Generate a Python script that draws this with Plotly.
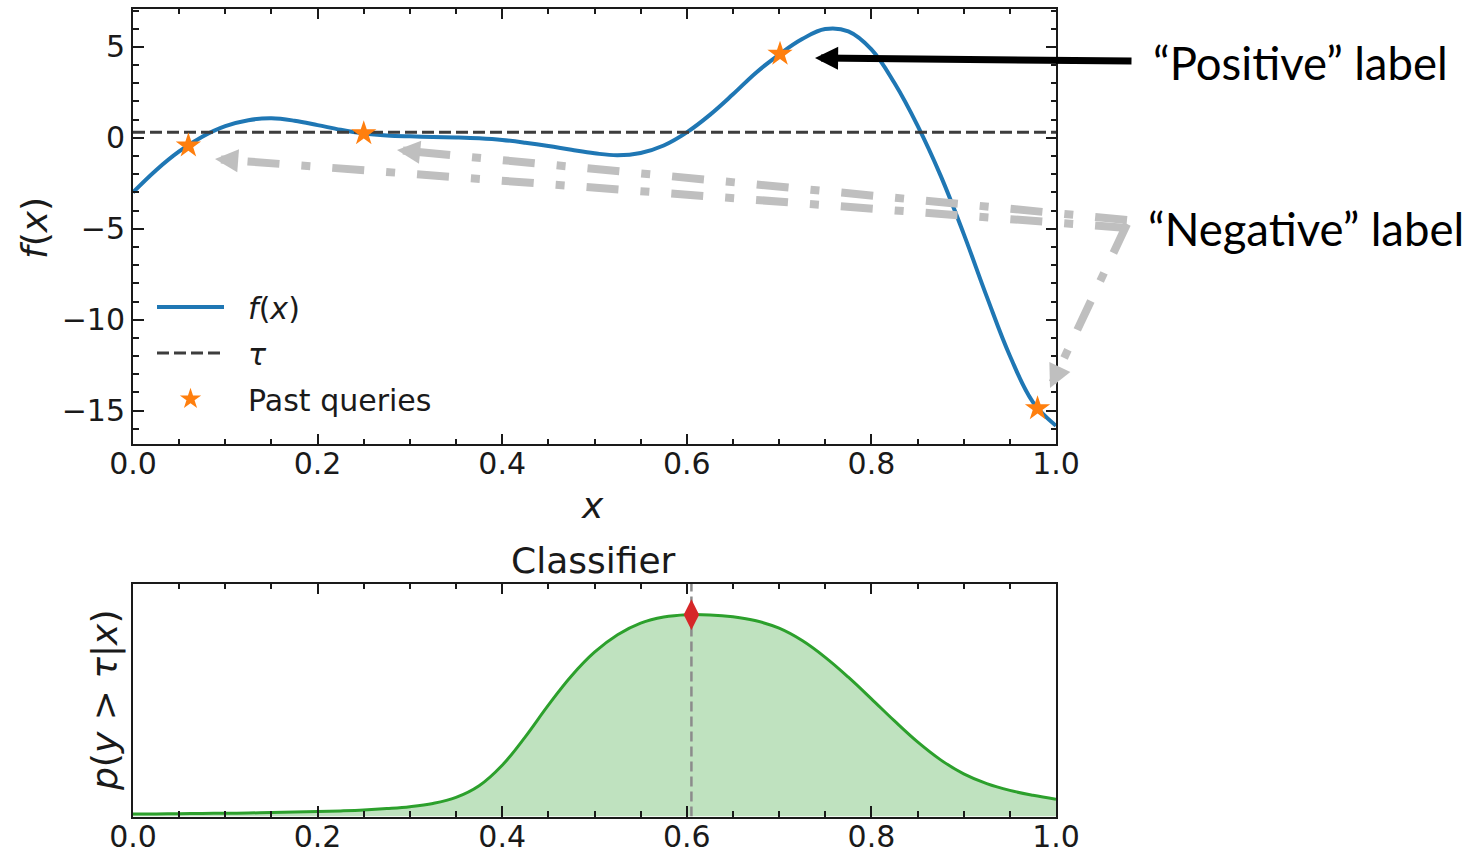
import plotly.graph_objects as go

W, H = 1480, 849

# Objective f(x) sampled on a regular grid
fx_x = [0.000, 0.025, 0.050, 0.075, 0.100, 0.125, 0.150, 0.175, 0.200, 0.225,
        0.250, 0.275, 0.300, 0.325, 0.350, 0.375, 0.400, 0.425, 0.450, 0.475,
        0.500, 0.525, 0.550, 0.575, 0.600, 0.625, 0.650, 0.675, 0.700, 0.725,
        0.750, 0.775, 0.800, 0.825, 0.850, 0.875, 0.900, 0.925, 0.950, 0.975,
        1.000]
fx_y = [-3.00, -1.78, -0.75, 0.06, 0.64, 0.97, 1.07, 0.94, 0.70, 0.44,
        0.24, 0.13, 0.08, 0.05, 0.02, -0.03, -0.12, -0.27, -0.45, -0.66,
        -0.85, -0.96, -0.83, -0.42, 0.30, 1.26, 2.39, 3.58, 4.58, 5.43,
        5.98, 5.85, 4.86, 3.01, 0.67, -2.08, -5.28, -8.73, -11.98, -14.53,
        -15.83]

# Threshold and past queries
tau = 0.3
query_x = [0.060, 0.250, 0.701, 0.980]
query_y = [-0.43, 0.24, 4.61, -14.88]

# Classifier output p(y > tau | x)
clf_x = [0.000, 0.025, 0.050, 0.075, 0.100, 0.125, 0.150, 0.175, 0.200, 0.225,
         0.250, 0.275, 0.300, 0.325, 0.350, 0.375, 0.400, 0.425, 0.450, 0.475,
         0.500, 0.525, 0.550, 0.575, 0.600, 0.625, 0.650, 0.675, 0.700, 0.725,
         0.750, 0.775, 0.800, 0.825, 0.850, 0.875, 0.900, 0.925, 0.950, 0.975,
         1.000]
clf_p = [0.011, 0.011, 0.012, 0.013, 0.014, 0.015, 0.017, 0.019, 0.021, 0.024,
         0.028, 0.034, 0.042, 0.056, 0.082, 0.132, 0.220, 0.342, 0.478, 0.603,
         0.705, 0.780, 0.830, 0.856, 0.866, 0.865, 0.857, 0.840, 0.808, 0.755,
         0.683, 0.598, 0.505, 0.410, 0.320, 0.243, 0.183, 0.141, 0.112, 0.091,
         0.074]
best_x = 0.605
best_p = 0.866

x_ticks = [0.0, 0.2, 0.4, 0.6, 0.8, 1.0]
y_ticks = [-15, -10, -5, 0, 5]

# layout geometry (pixels)
LEFT, RIGHT = 133, 1056
TOP1, BOT1 = 8.5, 444.3
TOP2, BOT2 = 583.5, 816.5


def px(x):
    return x / W


def py(y):
    return 1 - y / H


INK = "#1a1a1a"
TICKFONT = dict(family="DejaVu Sans", size=30, color=INK)
PAD = "\u00a0\u00a0"

fig = go.Figure()

fig.add_trace(go.Scatter(
    x=fx_x, y=fx_y, mode="lines",
    line=dict(color="#1f77b4", width=4, shape="spline", smoothing=1.1, simplify=False),
    name=PAD + "<i>f</i>(<i>x</i>)", legendgroup="a", xaxis="x", yaxis="y"))
fig.add_trace(go.Scatter(
    x=[0, 1], y=[tau, tau], mode="lines", line=dict(color="#3d3d3d", width=3, dash="12px,5px"),
    name=PAD + "<i>τ</i>", legendgroup="b", xaxis="x", yaxis="y"))
fig.add_trace(go.Scatter(
    x=query_x, y=query_y, mode="markers",
    marker=dict(symbol="star", size=19, color="#ff7f0e", line=dict(width=0)),
    name=PAD + "Past queries", legendgroup="c", xaxis="x", yaxis="y"))

fig.add_trace(go.Scatter(
    x=clf_x, y=clf_p, mode="lines", fill="tozeroy", fillcolor="rgba(44,160,44,0.3)",
    line=dict(color="#2ca02c", width=3, shape="spline", smoothing=1.1, simplify=False),
    showlegend=False, xaxis="x2", yaxis="y2"))
fig.add_trace(go.Scatter(
    x=[best_x, best_x], y=[0, 1], mode="lines",
    line=dict(color="#8c8c8c", width=2.5, dash="10px,5px"), showlegend=False,
    xaxis="x2", yaxis="y2"))
fig.add_trace(go.Scatter(
    x=[best_x], y=[best_p], mode="markers",
    marker=dict(symbol="diamond-tall", size=22, color="#d62728", line=dict(width=0)),
    showlegend=False, xaxis="x2", yaxis="y2"))

minor_x = dict(dtick=0.05, tick0=0, ticks="inside", ticklen=5.5, tickwidth=2,
               tickcolor=INK, showgrid=False)
axis_common = dict(showline=True, linecolor=INK, linewidth=2, mirror="allticks",
                   ticks="inside", ticklen=10.5, tickwidth=2, tickcolor=INK,
                   showgrid=False, zeroline=False, tickfont=TICKFONT, automargin=False)

xdom = [px(LEFT), px(RIGHT)]
fig.update_layout(
    width=W, height=H, margin=dict(l=0, r=0, t=0, b=0),
    paper_bgcolor="white", plot_bgcolor="white",
    xaxis=dict(domain=xdom, anchor="y", range=[0, 1], tickvals=x_ticks,
               tickformat=".1f", minor=minor_x, ticklabelstandoff=-8, **axis_common),
    yaxis=dict(domain=[py(BOT1), py(TOP1)], anchor="x", range=[-16.85, 7.11],
               tickvals=y_ticks,
               minor=dict(dtick=1, tick0=0, ticks="inside", ticklen=5.5, tickwidth=2,
                          tickcolor=INK, showgrid=False),
               **axis_common),
    xaxis2=dict(domain=xdom, anchor="y2", range=[0, 1], tickvals=x_ticks,
                tickformat=".1f", minor=minor_x, ticklabelstandoff=-8, **axis_common),
    yaxis2=dict(domain=[py(BOT2), py(TOP2)], anchor="x2", range=[0, 1],
                showline=True, linecolor=INK, linewidth=2, mirror=True, ticks="",
                showticklabels=False, showgrid=False, zeroline=False, automargin=False),
    legend=dict(x=px(152), y=py(281), xanchor="left", yanchor="top",
                bgcolor="rgba(0,0,0,0)", font=dict(family="DejaVu Sans", size=30, color=INK),
                traceorder="grouped", tracegroupgap=4, itemwidth=67),
    showlegend=True,
)

annotations = []


def label(text, x, y, size, angle=0, family="DejaVu Sans", xanchor="center", color=INK):
    annotations.append(dict(
        text=text, x=px(x), y=py(y), xref="paper", yref="paper", showarrow=False,
        textangle=angle, xanchor=xanchor, yanchor="middle",
        font=dict(family=family, size=size, color=color)))


label("<i>f</i>(<i>x</i>)", 34, 228, 36, angle=-90)
label("<i>x</i>", 592, 505, 36)
label("Classifier", 593, 560, 36)
label("<i>p</i>(<i>y</i> &gt; <i>τ</i>|<i>x</i>)", 105, 701, 36, angle=-90)
label("“Positive” label", 1151, 63, 45.5, family="Lato", xanchor="left", color="black")
label("“Negative” label", 1146, 229, 45.5, family="Lato", xanchor="left", color="black")

# black arrow towards the positive query
tip, tail = (815, 58), (1133, 61)
annotations.append(dict(
    x=px(tip[0]), y=py(tip[1]), xref="paper", yref="paper", text="", showarrow=True,
    ax=tail[0] - tip[0], ay=tail[1] - tip[1], arrowhead=2, arrowsize=0.66,
    arrowwidth=7, arrowcolor="black", standoff=0))

# grey dash-dot arrows towards the negative queries
GREY = "#bfbfbf"
shapes = []
for start, end in [((1127, 228), (215, 159)), ((1127, 220), (397, 150)),
                   ((1127, 224), (1050, 388))]:
    dx, dy = start[0] - end[0], start[1] - end[1]
    n = (dx * dx + dy * dy) ** 0.5
    ux, uy = dx / n, dy / n
    back = 16
    shapes.append(dict(
        type="line", xref="paper", yref="paper",
        x0=px(start[0]), y0=py(start[1]),
        x1=px(end[0] + ux * back), y1=py(end[1] + uy * back),
        line=dict(color=GREY, width=8, dash="32px,22px,9px,22px")))
    annotations.append(dict(
        x=px(end[0]), y=py(end[1]), xref="paper", yref="paper", text="", showarrow=True,
        ax=ux * 22, ay=uy * 22, arrowhead=2, arrowsize=0.58, arrowwidth=8,
        arrowcolor=GREY, standoff=0))

fig.update_layout(annotations=annotations, shapes=shapes)

fig.write_html("out.html")
